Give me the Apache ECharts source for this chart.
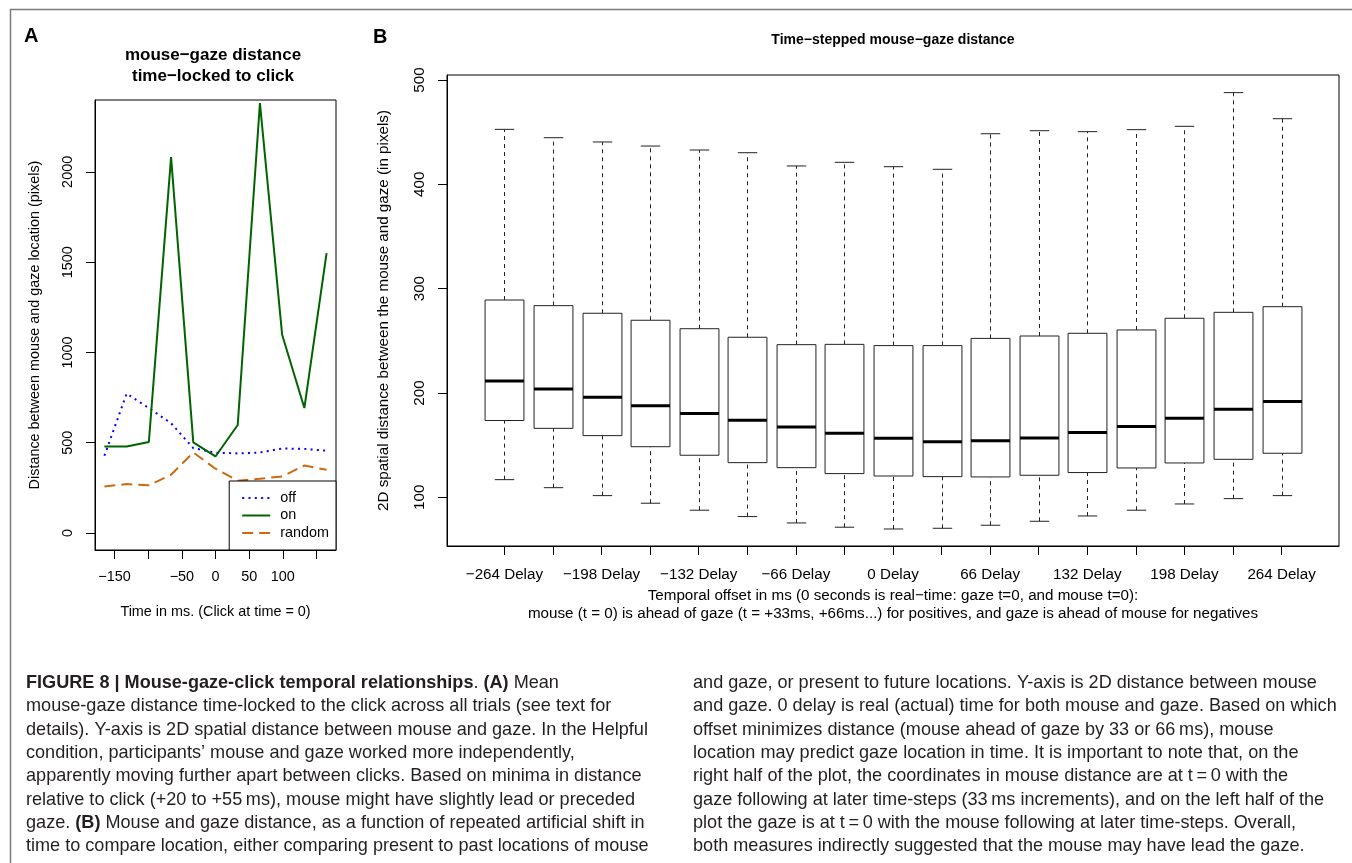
<!DOCTYPE html>
<html>
<head>
<meta charset="utf-8">
<script src="https://cdn.jsdelivr.net/npm/echarts@6/dist/echarts.min.js"></script>
<style>
html, body { margin: 0; padding: 0; background: #fff; }
#main { width: 1352px; height: 863px; }
</style>
</head>
<body>
<div id="main"></div>
<script>
// Panel A: mean mouse-gaze distance, time-locked to the click
var clickTimes = [-165, -132, -99, -66, -33, 0, 33, 66, 99, 132, 165];
var offDist = [428, 772, 692, 608, 470, 445, 441, 446, 468, 466, 456];
var onDist = [479, 479, 504, 2082, 502, 424, 598, 2381, 1098, 692, 1550];
var randomDist = [258, 271, 264, 323, 446, 356, 290, 301, 313, 374, 350];
var timeTicks = [-150, -100, -50, 0, 50, 100, 150];
var timeLabels = [-150, -50, 0, 50, 100];
var distTicks = [0, 500, 1000, 1500, 2000];

// Panel B: boxplots of distance per artificial delay
var delays = [-264, -231, -198, -165, -132, -99, -66, -33, 0, 33, 66, 99, 132, 165, 198, 231, 264];
var whiskLow = [116.9, 109.2, 101.6, 94.3, 87.6, 81.5, 75.4, 71.3, 69.6, 70.3, 73.2, 77.0, 82.1, 87.6, 93.6, 98.7, 101.6];
var q1 = [173.6, 166.1, 159.1, 148.5, 140.3, 133.2, 128.4, 122.7, 120.4, 119.8, 119.5, 121.1, 123.7, 128.1, 132.9, 136.4, 142.2];
var med = [211.5, 203.8, 195.9, 187.8, 180.2, 173.8, 167.4, 161.4, 156.6, 153.3, 154.3, 156.9, 162.0, 167.8, 175.7, 184.4, 191.7];
var q3 = [289.1, 283.7, 276.4, 269.7, 261.6, 253.4, 246.3, 246.6, 245.4, 245.4, 252.3, 254.6, 257.2, 260.4, 271.6, 277.3, 282.7];
var whiskHigh = [452.7, 444.7, 440.6, 436.7, 432.9, 430.3, 417.6, 421.1, 416.9, 414.4, 448.5, 451.4, 450.5, 452.4, 455.6, 487.9, 462.9];
var delayLabels = [-264, -198, -132, -66, 0, 66, 132, 198, 264];
var pixTicks = [100, 200, 300, 400, 500];

var FONT = '"Liberation Sans", Arial, Helvetica, sans-serif';
var INK = '#000';

function minus(v) {
    return v < 0 ? '\u2212' + (-v) : String(v);
}

function pairs(xs, ys) {
    return xs.map(function (x, i) { return [x, ys[i]]; });
}

var boxWidth = 33 * 0.8;

function renderBox(params, api) {
    var x = api.value(0);
    var half = api.size([boxWidth, 0])[0] / 2;
    var cap = half / 2;
    var pLow = api.coord([x, api.value(1)]);
    var pQ1 = api.coord([x, api.value(2)]);
    var pMed = api.coord([x, api.value(3)]);
    var pQ3 = api.coord([x, api.value(4)]);
    var pHigh = api.coord([x, api.value(5)]);
    var cx = Math.round(pMed[0]) + 0.5;
    var dash = { stroke: '#222', lineWidth: 1, lineDash: [4, 4] };
    var solid = { stroke: '#222', lineWidth: 1 };
    return {
        type: 'group',
        children: [
            { type: 'line', shape: { x1: cx, y1: pQ3[1], x2: cx, y2: pHigh[1] }, style: dash },
            { type: 'line', shape: { x1: cx, y1: pLow[1], x2: cx, y2: pQ1[1] }, style: dash },
            { type: 'line', shape: { x1: cx - cap, y1: pHigh[1], x2: cx + cap, y2: pHigh[1] }, style: solid },
            { type: 'line', shape: { x1: cx - cap, y1: pLow[1], x2: cx + cap, y2: pLow[1] }, style: solid },
            { type: 'rect', shape: { x: cx - half, y: pQ3[1], width: half * 2, height: pQ1[1] - pQ3[1] },
              style: { fill: '#fff', stroke: '#222', lineWidth: 1 } },
            { type: 'line', shape: { x1: cx - half, y1: pMed[1], x2: cx + half, y2: pMed[1] },
              style: { stroke: '#000', lineWidth: 3 } }
        ]
    };
}

function txt(x, y, s, size, weight, align) {
    return {
        type: 'text', x: x, y: y, silent: true,
        style: {
            text: s, fill: INK, fontFamily: FONT, fontSize: size,
            fontWeight: weight || 'normal', align: align || 'center', verticalAlign: 'middle'
        }
    };
}

var captionLeft = [
    '{b|FIGURE 8 | Mouse-gaze-click temporal relationships}. {b|(A)} Mean',
    'mouse-gaze distance time-locked to the click across all trials (see text for',
    'details). Y-axis is 2D spatial distance between mouse and gaze. In the Helpful',
    'condition, participants\u2019 mouse and gaze worked more independently,',
    'apparently moving further apart between clicks. Based on minima in distance',
    'relative to click (+20 to +55\u2009ms), mouse might have slightly lead or preceded',
    'gaze. {b|(B)} Mouse and gaze distance, as a function of repeated artificial shift in',
    'time to compare location, either comparing present to past locations of mouse'
];
var captionRight = [
    'and gaze, or present to future locations. Y-axis is 2D distance between mouse',
    'and gaze. 0 delay is real (actual) time for both mouse and gaze. Based on which',
    'offset minimizes distance (mouse ahead of gaze by 33 or 66\u2009ms), mouse',
    'location may predict gaze location in time. It is important to note that, on the',
    'right half of the plot, the coordinates in mouse distance are at t\u2009=\u20090 with the',
    'gaze following at later time-steps (33\u2009ms increments), and on the left half of the',
    'plot the gaze is at t\u2009=\u20090 with the mouse following at later time-steps. Overall,',
    'both measures indirectly suggested that the mouse may have lead the gaze.'
];
var CAP = 18.1;

var graphics = [
    { type: 'polyline', silent: true, shape: { points: [[10.5, 863], [10.5, 9.5], [1352, 9.5]] },
      style: { stroke: '#7a7a7a', lineWidth: 1.5, fill: null } },
    txt(24, 36, 'A', 20, 'bold', 'left'),
    txt(373, 37, 'B', 20, 'bold', 'left'),
    txt(213, 55, 'mouse\u2212gaze distance', 17, 'bold'),
    txt(213, 76, 'time\u2212locked to click', 17, 'bold'),
    txt(893, 40, 'Time\u2212stepped mouse\u2212gaze distance', 14, 'bold')
];

function captionLines(lines, x) {
    lines.forEach(function (line, i) {
        graphics.push({
            type: 'text', x: x, y: 683 + 23.3 * i, silent: true,
            style: {
                text: line, fill: '#231f20', fontFamily: FONT, fontSize: CAP,
                align: 'left', verticalAlign: 'middle',
                rich: { b: { fontWeight: 'bold', fontFamily: FONT, fontSize: CAP, fill: '#231f20' } }
            }
        });
    });
}
captionLines(captionLeft, 26);
captionLines(captionRight, 693);

var textA = { color: INK, fontFamily: FONT, fontSize: 14.4 };
var textB = { color: INK, fontFamily: FONT, fontSize: 15.2 };

var option = {
    animation: false,
    backgroundColor: '#fff',
    textStyle: { fontFamily: FONT },
    grid: [
        { left: 95, top: 100, width: 241, height: 450, show: true, borderColor: INK, borderWidth: 1 },
        { left: 447, top: 75, width: 892, height: 471, show: true, borderColor: INK, borderWidth: 1 }
    ],
    legend: {
        data: ['off', 'on', 'random'],
        orient: 'vertical',
        right: 1016, bottom: 313,
        borderColor: INK, borderWidth: 1,
        backgroundColor: '#fff',
        padding: [10, 7, 10, 12],
        itemWidth: 28, itemHeight: 12, itemGap: 3.5,
        itemStyle: { opacity: 0 },
        textStyle: { color: INK, fontFamily: FONT, fontSize: 14.4, padding: [0, 0, 0, 5] },
        selectedMode: false
    },
    xAxis: [
        {
            type: 'value', gridIndex: 0, min: -179, max: 179,
            axisLine: { show: true, onZero: false, lineStyle: { color: INK } },
            axisTick: { show: true, length: 9, customValues: timeTicks, lineStyle: { color: INK } },
            axisLabel: Object.assign({ customValues: timeLabels, margin: 20, formatter: minus }, textA),
            splitLine: { show: false },
            name: 'Time in ms. (Click at time = 0)', nameLocation: 'middle', nameGap: 55,
            nameTextStyle: textA
        },
        {
            type: 'value', gridIndex: 1, min: -303, max: 303,
            axisLine: { show: true, onZero: false, lineStyle: { color: INK } },
            axisTick: { show: true, length: 9, customValues: delays, lineStyle: { color: INK } },
            axisLabel: Object.assign({
                customValues: delayLabels, margin: 21,
                formatter: function (v) { return minus(v) + ' Delay'; }
            }, textB),
            splitLine: { show: false },
            name: 'Temporal offset in ms (0 seconds is real\u2212time: gaze t=0, and mouse t=0):\nmouse (t = 0) is ahead of gaze (t = +33ms, +66ms...) for positives, and gaze is ahead of mouse for negatives',
            nameLocation: 'middle', nameGap: 37,
            nameTextStyle: Object.assign({ lineHeight: 18 }, textB)
        }
    ],
    yAxis: [
        {
            type: 'value', gridIndex: 0, min: -94, max: 2398,
            axisLine: { show: true, onZero: false, lineStyle: { color: INK } },
            axisTick: { show: true, length: 9, customValues: distTicks, lineStyle: { color: INK } },
            axisLabel: Object.assign({ customValues: distTicks, margin: 20, rotate: 90, formatter: minus }, textA),
            splitLine: { show: false },
            name: 'Distance between mouse and gaze location (pixels)', nameLocation: 'middle', nameGap: 53,
            nameTextStyle: textA
        },
        {
            type: 'value', gridIndex: 1, min: 53.3, max: 504.8,
            axisLine: { show: true, onZero: false, lineStyle: { color: INK } },
            axisTick: { show: true, length: 9, customValues: pixTicks, lineStyle: { color: INK } },
            axisLabel: Object.assign({ customValues: pixTicks, margin: 20, rotate: 90, formatter: minus }, textB),
            splitLine: { show: false },
            name: '2D spatial distance between the mouse and gaze (in pixels)', nameLocation: 'middle', nameGap: 56,
            nameTextStyle: textB
        }
    ],
    series: [
        {
            name: 'off', type: 'line', xAxisIndex: 0, yAxisIndex: 0,
            data: pairs(clickTimes, offDist), symbol: 'none',
            itemStyle: { color: '#0000ff' },
            lineStyle: { color: '#0000ff', width: 2, type: [2, 4.3], cap: 'butt' }
        },
        {
            name: 'on', type: 'line', xAxisIndex: 0, yAxisIndex: 0,
            data: pairs(clickTimes, onDist), symbol: 'none',
            itemStyle: { color: '#006400' },
            lineStyle: { color: '#006400', width: 2 }
        },
        {
            name: 'random', type: 'line', xAxisIndex: 0, yAxisIndex: 0,
            data: pairs(clickTimes, randomDist), symbol: 'none',
            itemStyle: { color: '#cd6a10' },
            lineStyle: { color: '#cd6a10', width: 2, type: [11, 6], cap: 'butt' }
        },
        {
            name: 'delay boxes', type: 'custom', xAxisIndex: 1, yAxisIndex: 1,
            renderItem: renderBox,
            encode: { x: 0, y: [1, 2, 3, 4, 5] },
            data: delays.map(function (d, i) {
                return [d, whiskLow[i], q1[i], med[i], q3[i], whiskHigh[i]];
            })
        }
    ],
    graphic: graphics
};

var myChart = echarts.init(document.getElementById('main'));
myChart.setOption(option);
</script>
</body>
</html>
